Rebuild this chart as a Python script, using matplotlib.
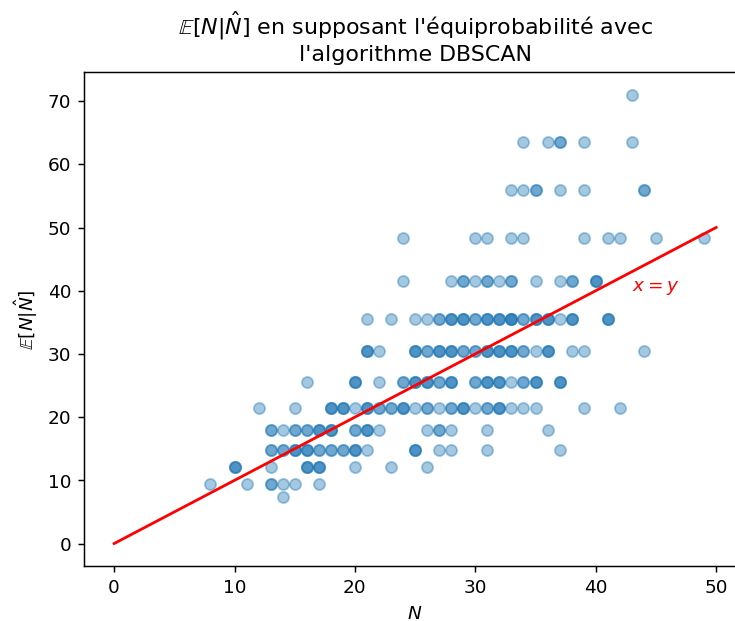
import matplotlib
matplotlib.use("Agg")
import matplotlib.pyplot as plt
import numpy as np

# E[N | N_hat] levels reached by the DBSCAN estimate (one per N_hat value)
e_levels = [7.3, 9.45, 12.05, 14.8, 18.0, 21.5, 25.6, 30.5, 35.6, 41.6, 48.4, 55.9, 63.6, 71.0]

# True N of each run, grouped by the level its estimate maps to (repeats = several runs)
n_lvl_7_3 = [14]
n_lvl_9_45 = [8, 11, 13, 13, 14, 15, 17]
n_lvl_12_05 = [10, 10, 10, 13, 16, 16, 16, 17, 17, 17, 20, 23, 26]
n_lvl_14_8 = [13, 13, 14, 14, 15, 15, 15, 16, 16, 16, 17, 17, 18, 18, 19, 19,
              20, 20, 20, 21, 25, 25, 25, 27, 28, 31, 37]
n_lvl_18_0 = [13, 13, 14, 15, 15, 16, 16, 17, 17, 17, 18, 18, 18, 20, 20,
              21, 21, 21, 22, 26, 27, 27, 28, 31, 36]
n_lvl_21_5 = [12, 15, 18, 18, 18, 19, 19, 19, 20, 21, 21, 21, 22, 22, 23, 23,
              24, 24, 24, 25, 26, 26, 27, 28, 28, 29, 29, 29, 30, 31, 31,
              32, 32, 32, 33, 34, 35, 39, 42]
n_lvl_25_6 = [16, 20, 20, 20, 22, 24, 24, 25, 25, 25, 26, 26, 26, 27, 27,
              28, 28, 28, 30, 30, 31, 31, 31, 32, 32, 32, 33, 34, 34,
              35, 35, 35, 37, 37, 37]
n_lvl_30_5 = [21, 21, 21, 22, 25, 25, 25, 26, 26, 27, 27, 27, 28, 28, 28,
              29, 29, 30, 30, 31, 31, 31, 32, 32, 32, 33, 33, 33, 34, 34,
              35, 36, 36, 36, 38, 39, 44]
n_lvl_35_6 = [21, 23, 25, 26, 27, 27, 28, 28, 28, 29, 29, 29, 30, 30, 31, 31, 31,
              32, 32, 32, 33, 33, 33, 33, 34, 34, 35, 35, 35, 36, 36, 36,
              37, 38, 38, 38, 41, 41, 41]
n_lvl_41_6 = [24, 28, 29, 29, 30, 31, 31, 32, 33, 33, 35, 37, 38, 38, 40, 40, 40]
n_lvl_48_4 = [24, 30, 31, 33, 34, 39, 41, 42, 45, 49]
n_lvl_55_9 = [33, 34, 35, 35, 37, 39, 44, 44]
n_lvl_63_6 = [34, 36, 37, 37, 39, 43]
n_lvl_71_0 = [43]

n_groups = [n_lvl_7_3, n_lvl_9_45, n_lvl_12_05, n_lvl_14_8, n_lvl_18_0,
            n_lvl_21_5, n_lvl_25_6, n_lvl_30_5, n_lvl_35_6, n_lvl_41_6,
            n_lvl_48_4, n_lvl_55_9, n_lvl_63_6, n_lvl_71_0]

n_true = np.concatenate([np.asarray(g, dtype=float) for g in n_groups])
e_cond = np.concatenate([np.full(len(g), lvl) for g, lvl in zip(n_groups, e_levels)])

# Reference diagonal
diag = [0, 50]

DPI = 133
fig = plt.figure(figsize=(735.2 / DPI, 621.2 / DPI), dpi=DPI)
ax = fig.add_axes([84 / 735, 55 / 621, 662 / 735, 493.5 / 621])

ax.scatter(n_true, e_cond, alpha=0.4)
ax.plot(diag, diag, color="red")
ax.text(43, 40, "$x=y$", color="red")

ax.set_xlim(-2.5, 52.5)
ax.set_ylim(-3.55, 74.55)
ax.spines["right"].set_visible(False)

ax.set_title("$\\mathbb{E}[N|\\hat{N}]$ en supposant l'équiprobabilité avec\n"
             "l'algorithme DBSCAN")
ax.set_xlabel("$N$")
ax.set_ylabel("$\\mathbb{E}[N|\\hat{N}]$")

fig.savefig("out.png", dpi=DPI)
